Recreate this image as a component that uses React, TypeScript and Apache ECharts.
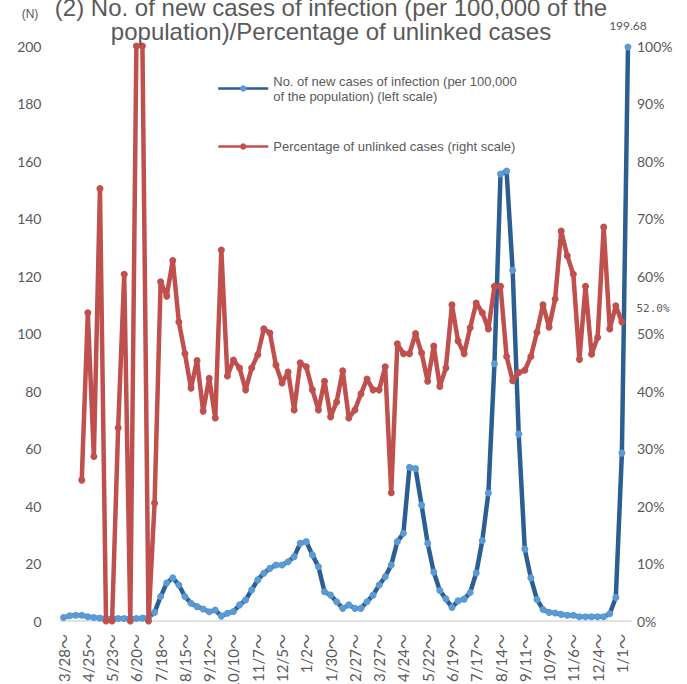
import React, { useEffect, useRef } from "react";
import * as echarts from "echarts";

const weeks = [
  "3/28～","4/4～","4/11～","4/18～","4/25～","5/2～","5/9～","5/16～","5/23～","5/30～",
  "6/6～","6/13～","6/20～","6/27～","7/4～","7/11～","7/18～","7/25～","8/1～","8/8～",
  "8/15～","8/22～","8/29～","9/5～","9/12～","9/19～","9/26～","10/3～","10/10～","10/17～",
  "10/24～","10/31～","11/7～","11/14～","11/21～","11/28～","12/5～","12/12～","12/19～","12/26～",
  "1/2～","1/9～","1/16～","1/23～","1/30～","2/6～","2/13～","2/20～","2/27～","3/6～",
  "3/13～","3/20～","3/27～","4/3～","4/10～","4/17～","4/24～","5/1～","5/8～","5/15～",
  "5/22～","5/29～","6/5～","6/12～","6/19～","6/26～","7/3～","7/10～","7/17～","7/24～",
  "7/31～","8/7～","8/14～","8/21～","8/28～","9/4～","9/11～","9/18～","9/25～","10/2～",
  "10/9～","10/16～","10/23～","10/30～","11/6～","11/13～","11/20～","11/27～","12/4～","12/11～",
  "12/18～","12/25～","1/1～","1/8～"
];

// No. of new cases of infection per 100,000 (left scale)
const newCases = [
  1.2, 1.8, 2.0, 2.0, 1.5, 1.2, 1.0, 1.0, 0.9, 0.9,
  0.9, 0.9, 0.9, 1.0, 1.2, 3.0, 8.5, 13.2, 15.0, 12.5,
  8.5, 6.2, 5.0, 4.2, 3.2, 3.8, 1.7, 2.7, 3.3, 5.6,
  7.3, 10.8, 14.3, 16.6, 18.3, 19.5, 19.5, 20.6, 22.4, 27.0,
  27.6, 23.0, 18.9, 10.2, 9.0, 6.7, 4.4, 5.6, 4.4, 4.4,
  6.7, 9.0, 12.5, 15.4, 19.5, 27.6, 30.5, 53.5, 53.0, 40.3,
  27.0, 17.0, 10.6, 7.7, 4.7, 7.0, 7.6, 9.9, 16.7, 28.0,
  44.5, 89.5, 155.5, 156.5, 122.0, 65.0, 25.0, 15.0, 7.5, 4.0,
  3.0, 2.8, 2.3, 2.0, 2.0, 1.5, 1.5, 1.5, 1.5, 1.5,
  2.5, 8.2, 58.4, 199.68
];

// Percentage of unlinked cases (right scale, %)
const unlinkedPct = [
  null, null, null, 24.5, 53.6, 28.6, 75.2, 0, 0, 33.6,
  60.3, 0, 100, 100, 0, 20.5, 59.0, 56.5, 62.7, 52.0,
  46.5, 40.5, 45.3, 36.5, 42.2, 35.3, 64.5, 42.6, 45.4, 44.0,
  40.2, 44.0, 46.3, 50.8, 50.1, 44.5, 41.4, 43.3, 36.7, 44.9,
  44.2, 40.2, 36.7, 41.7, 35.5, 38.1, 43.5, 35.3, 36.7, 39.5,
  42.1, 40.2, 40.2, 44.2, 22.3, 48.2, 46.5, 46.5, 50.0, 46.6,
  41.7, 47.8, 40.8, 44.0, 55.0, 48.7, 46.5, 51.0, 55.3, 53.6,
  50.8, 58.2, 58.2, 46.0, 41.8, 43.2, 43.6, 46.0, 50.2, 55.0,
  51.1, 56.0, 67.8, 63.5, 60.3, 45.5, 58.2, 46.4, 49.3, 68.5,
  50.8, 54.8, 52.0
];

const blueName = "No. of new cases of infection (per 100,000\nof the population) (left scale)";
const redName = "Percentage of unlinked cases (right scale)";
const titleText = "(2) No. of new cases of infection (per 100,000 of the\npopulation)/Percentage of unlinked cases";

const GRAY = "#595959";
const NUM_FONT = "Lato, 'Noto Sans CJK JP', sans-serif";
const TXT_FONT = "'Liberation Sans', Arial, sans-serif";

export default function App() {
  const ref = useRef<HTMLDivElement>(null);

  useEffect(() => {
    if (!ref.current) return;
    const chart = echarts.init(ref.current, undefined, { renderer: "svg" });

    const blueData = newCases.map((v, i) =>
      i === newCases.length - 1
        ? {
            value: v,
            label: {
              show: true,
              position: "top",
              distance: 12,
              formatter: (p: any) => String(p.value),
              color: GRAY,
              fontSize: 12,
              fontFamily: NUM_FONT,
            },
          }
        : v
    );
    const lastRed = unlinkedPct.length - 1;
    const redData = unlinkedPct.map((v, i) =>
      i === lastRed
        ? {
            value: v,
            label: {
              show: true,
              position: "right",
              distance: 11,
              offset: [0, -14],
              formatter: (p: any) => Number(p.value).toFixed(1) + "%",
              color: GRAY,
              fontSize: 11,
              fontFamily: "'DejaVu Sans Mono', monospace",
            },
          }
        : v
    );

    chart.setOption({
      animation: false,
      backgroundColor: "#ffffff",
      title: {
        text: titleText,
        left: 331,
        top: -5,
        textAlign: "center",
        padding: 0,
        textStyle: {
          fontSize: 24,
          lineHeight: 24,
          fontWeight: "normal",
          color: GRAY,
          fontFamily: TXT_FONT,
        },
      },
      graphic: [
        {
          type: "text",
          x: 30,
          y: 14,
          style: {
            text: "(N)",
            fill: GRAY,
            font: "12px " + TXT_FONT,
            textAlign: "center",
            textVerticalAlign: "middle",
          },
        },
      ],
      legend: [
        {
          data: [blueName],
          left: 217,
          top: 66,
          orient: "vertical",
          padding: 0,
          itemWidth: 50,
          itemHeight: 8,
          selectedMode: false,
          lineStyle: { width: 2.5 },
          textStyle: {
            fontSize: 13,
            lineHeight: 15,
            color: GRAY,
            fontFamily: TXT_FONT,
            padding: [15, 0, 0, 0],
          },
        },
        {
          data: [redName],
          left: 217,
          top: 139,
          orient: "vertical",
          padding: 0,
          itemWidth: 50,
          itemHeight: 8,
          selectedMode: false,
          lineStyle: { width: 2.5 },
          textStyle: {
            fontSize: 13,
            lineHeight: 15,
            color: GRAY,
            fontFamily: TXT_FONT,
          },
        },
      ],
      grid: {
        left: 60.5,
        right: 56,
        top: 46,
        bottom: 63,
        containLabel: false,
        outerBoundsMode: "none",
      },
      xAxis: {
        type: "category",
        data: weeks,
        boundaryGap: true,
        axisLine: { show: true, lineStyle: { color: "#D9D9D9", width: 1.5 } },
        axisTick: { show: false },
        axisLabel: {
          interval: 3,
          rotate: 90,
          margin: 13,
          color: GRAY,
          fontSize: 15,
          fontFamily: NUM_FONT,
        },
        splitLine: { show: false },
      },
      yAxis: [
        {
          type: "value",
          min: 0,
          max: 200,
          interval: 20,
          axisLine: { show: false },
          axisTick: { show: false },
          splitLine: { show: false },
          axisLabel: { color: GRAY, fontSize: 14, fontFamily: NUM_FONT, margin: 19 },
        },
        {
          type: "value",
          min: 0,
          max: 100,
          interval: 10,
          position: "right",
          axisLine: { show: false },
          axisTick: { show: false },
          splitLine: { show: false },
          axisLabel: {
            color: GRAY,
            fontSize: 14,
            fontFamily: NUM_FONT,
            margin: 6,
            formatter: "{value}%",
          },
        },
      ],
      series: [
        {
          name: blueName,
          type: "line",
          yAxisIndex: 0,
          data: blueData,
          symbol: "circle",
          symbolSize: 7,
          showAllSymbol: true,
          lineStyle: { color: "#2C5E92", width: 4.5 },
          itemStyle: { color: "#5B9BD5" },
          z: 2,
        },
        {
          name: redName,
          type: "line",
          yAxisIndex: 1,
          data: redData,
          symbol: "circle",
          symbolSize: 7,
          showAllSymbol: true,
          connectNulls: false,
          lineStyle: { color: "#C0504D", width: 4.5 },
          itemStyle: { color: "#C0504D" },
          z: 3,
        },
      ],
    });

    return () => chart.dispose();
  }, []);

  return (
    <div
      ref={ref}
      style={{ position: "fixed", left: 0, top: 0, width: 687, height: 684 }}
    />
  );
}
